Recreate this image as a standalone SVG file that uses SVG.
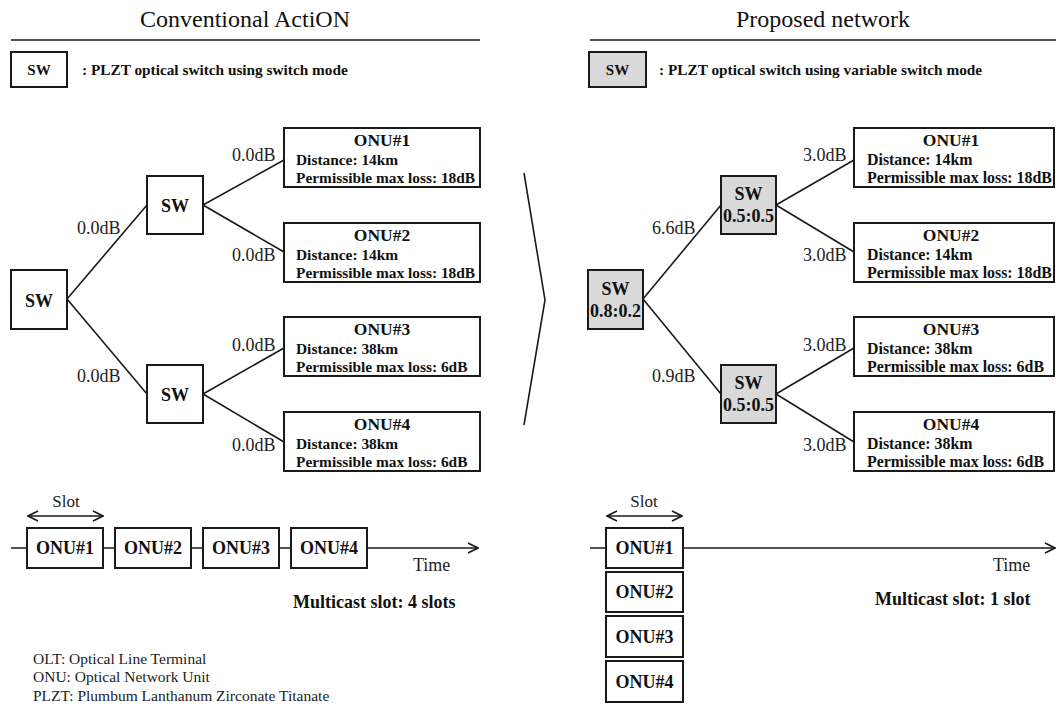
<svg xmlns="http://www.w3.org/2000/svg" width="1056" height="709" viewBox="0 0 1056 709">
  <style>
    .title { font-family: "Liberation Serif", "Times New Roman", serif; font-size: 24px; fill: #111; text-anchor: middle; }
    .bold { font-family: "Liberation Serif", "Times New Roman", serif; font-weight: bold; fill: #111; }
    .reg { font-family: "Liberation Serif", "Times New Roman", serif; fill: #222; }
    .box { fill: #fff; stroke: #1a1a1a; stroke-width: 2; }
    .gbox { fill: #d9d9d9; stroke: #1a1a1a; stroke-width: 2; }
    .ln { stroke: #1a1a1a; stroke-width: 1.6; fill: none; }
    .sw { font-size: 18px; text-anchor: middle; }
    .onuT { font-size: 17.5px; text-anchor: middle; }
    .onuL { font-size: 15.4px; }
    .onuR { font-size: 15.9px; }
    .db { font-size: 18px; }
    .slot { font-size: 18px; text-anchor: middle; }
  </style>
  <defs>
    <marker id="open" viewBox="0 0 12 12" refX="11" refY="6" markerWidth="12" markerHeight="12" markerUnits="userSpaceOnUse" orient="auto-start-reverse">
      <path d="M1,1 L11,6 L1,11" fill="none" stroke="#1a1a1a" stroke-width="1.6"/>
    </marker>
  </defs>

  <rect width="1056" height="709" fill="#fff"/>

  <!-- headings -->
  <g id="headings">
    <text class="title" x="245" y="27">Conventional ActiON</text>
    <line class="ln" x1="11" y1="40" x2="480" y2="40"/>
    <text class="title" x="823" y="27">Proposed network</text>
    <line class="ln" x1="590" y1="40" x2="1056" y2="40"/>
  </g>

  <!-- legends -->
  <g id="legend-left">
    <rect class="box" x="11" y="52" width="56" height="35"/>
    <text class="bold" x="39" y="75" font-size="15" text-anchor="middle">SW</text>
    <text class="bold" x="82" y="75" font-size="15.3">: PLZT optical switch using switch mode</text>
  </g>
  <g id="legend-right">
    <rect class="gbox" x="589" y="52" width="57" height="35"/>
    <text class="bold" x="617.5" y="75" font-size="15" text-anchor="middle">SW</text>
    <text class="bold" x="659" y="75" font-size="15.3">: PLZT optical switch using variable switch mode</text>
  </g>

  <!-- connectors -->
  <g id="connectors">
    <!-- conventional tree -->
    <line class="ln" x1="67" y1="299" x2="147" y2="205"/>
    <line class="ln" x1="67" y1="299" x2="147" y2="394"/>
    <line class="ln" x1="203" y1="205" x2="284" y2="160"/>
    <line class="ln" x1="203" y1="205" x2="284" y2="252"/>
    <line class="ln" x1="203" y1="394" x2="284" y2="348"/>
    <line class="ln" x1="203" y1="394" x2="284" y2="442"/>
    <!-- proposed tree -->
    <line class="ln" x1="643" y1="299" x2="721" y2="205"/>
    <line class="ln" x1="643" y1="299" x2="721" y2="394"/>
    <line class="ln" x1="776" y1="205" x2="854" y2="160"/>
    <line class="ln" x1="776" y1="205" x2="854" y2="252"/>
    <line class="ln" x1="776" y1="394" x2="854" y2="348"/>
    <line class="ln" x1="776" y1="394" x2="854" y2="442"/>
    <!-- chevron between the panels -->
    <polyline class="ln" points="524,173 545,300 524,425"/>
    <!-- time axes -->
    <line class="ln" x1="11" y1="548" x2="478" y2="548" marker-end="url(#open)"/>
    <line class="ln" x1="590" y1="548" x2="1055" y2="548" marker-end="url(#open)"/>
    <!-- slot width arrows -->
    <line class="ln" x1="28" y1="516" x2="103" y2="516" marker-start="url(#open)" marker-end="url(#open)"/>
    <line class="ln" x1="607" y1="516" x2="682" y2="516" marker-start="url(#open)" marker-end="url(#open)"/>
  </g>

  <!-- link losses -->
  <g id="losses">
    <text class="reg db" x="77" y="234">0.0dB</text>
    <text class="reg db" x="77" y="382">0.0dB</text>
    <text class="reg db" x="232" y="161">0.0dB</text>
    <text class="reg db" x="232" y="261">0.0dB</text>
    <text class="reg db" x="232" y="351">0.0dB</text>
    <text class="reg db" x="232" y="451">0.0dB</text>
    <text class="reg db" x="652" y="234">6.6dB</text>
    <text class="reg db" x="652" y="382">0.9dB</text>
    <text class="reg db" x="803" y="161">3.0dB</text>
    <text class="reg db" x="803" y="261">3.0dB</text>
    <text class="reg db" x="803" y="351">3.0dB</text>
    <text class="reg db" x="803" y="451">3.0dB</text>
  </g>

  <!-- conventional switches -->
  <g id="sw-root-conv">
    <rect class="box" x="11" y="270" width="56" height="59"/>
    <text class="bold sw" x="39" y="307">SW</text>
  </g>
  <g id="sw-upper-conv">
    <rect class="box" x="147" y="176" width="56" height="58"/>
    <text class="bold sw" x="175" y="212">SW</text>
  </g>
  <g id="sw-lower-conv">
    <rect class="box" x="147" y="365" width="56" height="58"/>
    <text class="bold sw" x="175" y="401">SW</text>
  </g>

  <!-- conventional ONUs -->
  <g id="onu1-conv">
    <rect class="box" x="284" y="128" width="196" height="59"/>
    <text class="bold onuT" x="382" y="146">ONU#1</text>
    <text class="bold onuL" x="296" y="165">Distance: 14km</text>
    <text class="bold onuL" x="296" y="183">Permissible max loss: 18dB</text>
  </g>
  <g id="onu2-conv">
    <rect class="box" x="284" y="223" width="196" height="59"/>
    <text class="bold onuT" x="382" y="241">ONU#2</text>
    <text class="bold onuL" x="296" y="260">Distance: 14km</text>
    <text class="bold onuL" x="296" y="278">Permissible max loss: 18dB</text>
  </g>
  <g id="onu3-conv">
    <rect class="box" x="284" y="317" width="196" height="59"/>
    <text class="bold onuT" x="382" y="335">ONU#3</text>
    <text class="bold onuL" x="296" y="354">Distance: 38km</text>
    <text class="bold onuL" x="296" y="372">Permissible max loss: 6dB</text>
  </g>
  <g id="onu4-conv">
    <rect class="box" x="284" y="412" width="196" height="59"/>
    <text class="bold onuT" x="382" y="430">ONU#4</text>
    <text class="bold onuL" x="296" y="449">Distance: 38km</text>
    <text class="bold onuL" x="296" y="467">Permissible max loss: 6dB</text>
  </g>

  <!-- proposed switches -->
  <g id="sw-root-prop">
    <rect class="gbox" x="588" y="270" width="55" height="59"/>
    <text class="bold sw" x="615.5" y="295">SW</text>
    <text class="bold sw" x="615.5" y="317">0.8:0.2</text>
  </g>
  <g id="sw-upper-prop">
    <rect class="gbox" x="721" y="176" width="55" height="58"/>
    <text class="bold sw" x="748.5" y="200">SW</text>
    <text class="bold sw" x="748.5" y="222">0.5:0.5</text>
  </g>
  <g id="sw-lower-prop">
    <rect class="gbox" x="721" y="365" width="55" height="58"/>
    <text class="bold sw" x="748.5" y="389">SW</text>
    <text class="bold sw" x="748.5" y="411">0.5:0.5</text>
  </g>

  <!-- proposed ONUs -->
  <g id="onu1-prop">
    <rect class="box" x="854" y="128" width="200" height="59"/>
    <text class="bold onuT" x="951" y="146">ONU#1</text>
    <text class="bold onuR" x="867" y="165">Distance: 14km</text>
    <text class="bold onuR" x="867" y="183">Permissible max loss: 18dB</text>
  </g>
  <g id="onu2-prop">
    <rect class="box" x="854" y="223" width="200" height="59"/>
    <text class="bold onuT" x="951" y="241">ONU#2</text>
    <text class="bold onuR" x="867" y="260">Distance: 14km</text>
    <text class="bold onuR" x="867" y="278">Permissible max loss: 18dB</text>
  </g>
  <g id="onu3-prop">
    <rect class="box" x="854" y="317" width="200" height="59"/>
    <text class="bold onuT" x="951" y="335">ONU#3</text>
    <text class="bold onuR" x="867" y="354">Distance: 38km</text>
    <text class="bold onuR" x="867" y="372">Permissible max loss: 6dB</text>
  </g>
  <g id="onu4-prop">
    <rect class="box" x="854" y="412" width="200" height="59"/>
    <text class="bold onuT" x="951" y="430">ONU#4</text>
    <text class="bold onuR" x="867" y="449">Distance: 38km</text>
    <text class="bold onuR" x="867" y="467">Permissible max loss: 6dB</text>
  </g>

  <!-- conventional time slots -->
  <g id="slots-conv">
    <text class="reg" x="66" y="507" font-size="17" text-anchor="middle">Slot</text>
    <rect class="box" x="27" y="528" width="76" height="40"/>
    <text class="bold slot" x="65" y="554">ONU#1</text>
    <rect class="box" x="115" y="528" width="76" height="40"/>
    <text class="bold slot" x="153" y="554">ONU#2</text>
    <rect class="box" x="203" y="528" width="76" height="40"/>
    <text class="bold slot" x="241" y="554">ONU#3</text>
    <rect class="box" x="291" y="528" width="76" height="40"/>
    <text class="bold slot" x="329" y="554">ONU#4</text>
    <text class="reg" x="413" y="571" font-size="18">Time</text>
    <text class="bold" x="293" y="608" font-size="18">Multicast slot: 4 slots</text>
  </g>

  <!-- proposed time slots -->
  <g id="slots-prop">
    <text class="reg" x="644" y="507" font-size="17" text-anchor="middle">Slot</text>
    <rect class="box" x="606" y="528" width="77" height="40"/>
    <text class="bold slot" x="644.5" y="554">ONU#1</text>
    <rect class="box" x="606" y="572" width="77" height="40"/>
    <text class="bold slot" x="644.5" y="598">ONU#2</text>
    <rect class="box" x="606" y="616" width="77" height="41"/>
    <text class="bold slot" x="644.5" y="643">ONU#3</text>
    <rect class="box" x="606" y="661" width="77" height="41"/>
    <text class="bold slot" x="644.5" y="688">ONU#4</text>
    <text class="reg" x="993" y="571" font-size="18">Time</text>
    <text class="bold" x="875" y="605" font-size="18">Multicast slot: 1 slot</text>
  </g>

  <!-- abbreviations -->
  <g id="abbreviations">
    <text class="reg" x="33" y="664" font-size="15.5">OLT: Optical Line Terminal</text>
    <text class="reg" x="33" y="682" font-size="15.5">ONU: Optical Network Unit</text>
    <text class="reg" x="33" y="701" font-size="15.5">PLZT: Plumbum Lanthanum Zirconate Titanate</text>
  </g>
</svg>
